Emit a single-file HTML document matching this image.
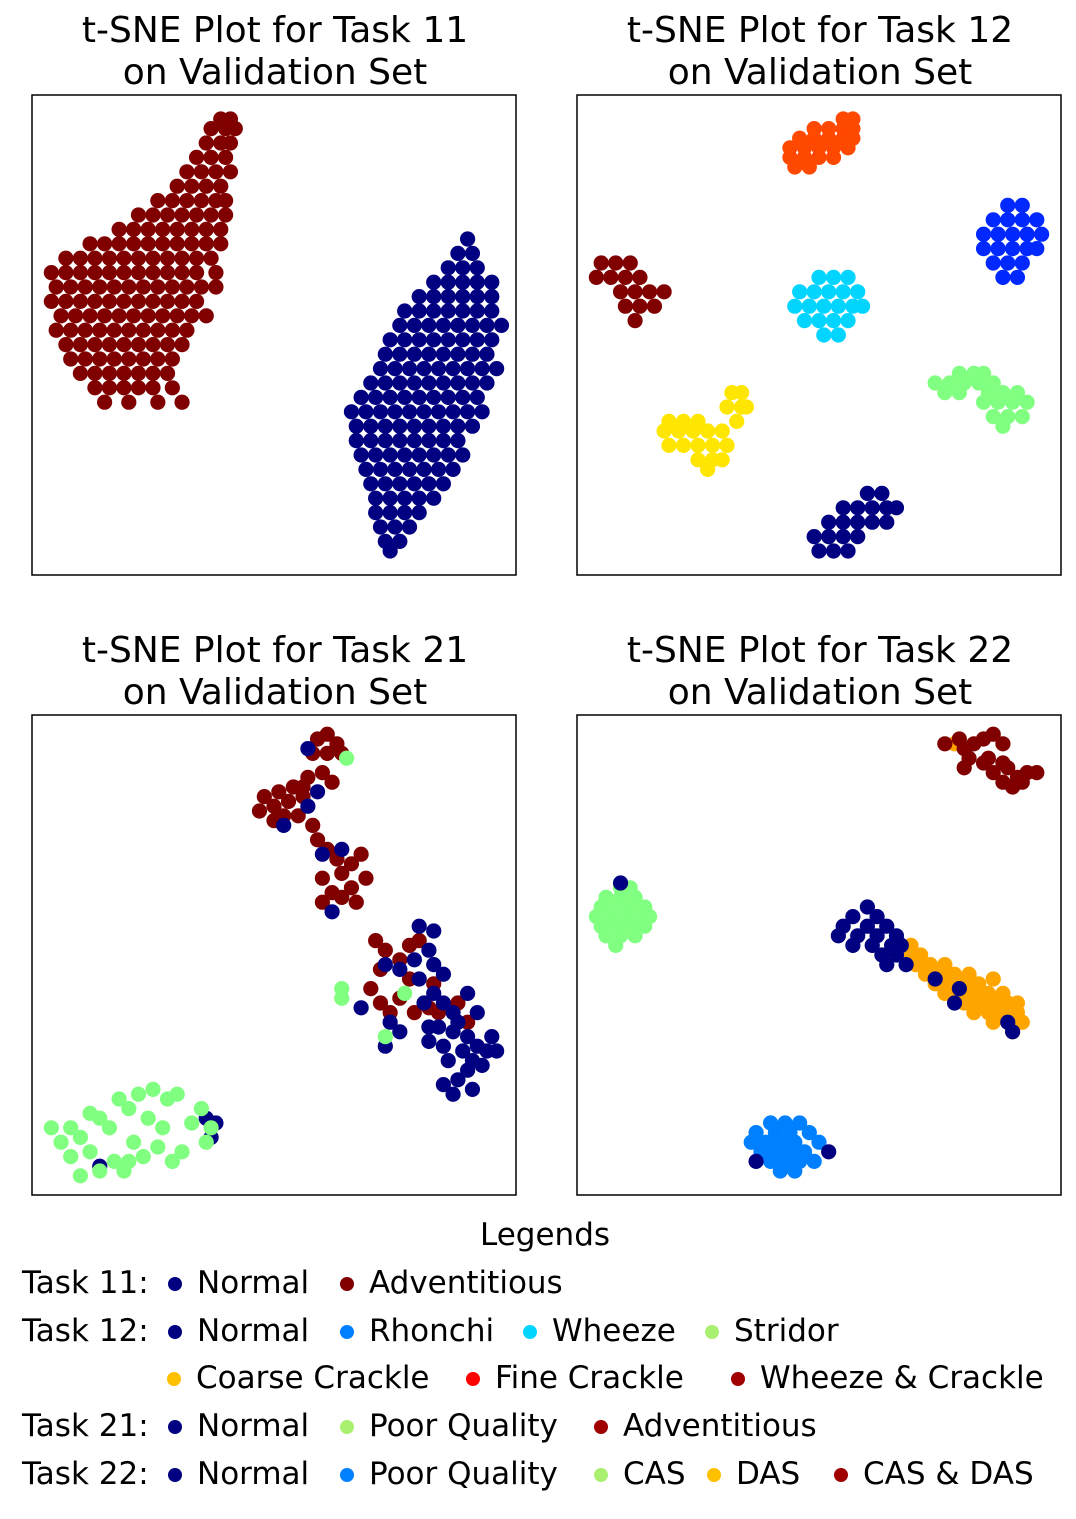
<!DOCTYPE html>
<html><head><meta charset="utf-8">
<style>
html,body{margin:0;padding:0;background:#fff;}
body{width:1076px;height:1519px;position:relative;overflow:hidden;font-family:"DejaVu Sans",sans-serif;}
svg{position:absolute;left:0;top:0;}
.lg{position:absolute;font-size:31px;color:#000;white-space:nowrap;line-height:1;font-family:"DejaVu Sans",sans-serif;}
.dot{position:absolute;width:14px;height:14px;border-radius:50%;}
</style></head>
<body>
<svg id="chart" width="1076" height="1519" viewBox="0 0 1076 1519"></svg>

<div class="lg" style="left:480px;top:1220px;">Legends</div>
<div id="legend"></div>

<script>
// ---- data (t-SNE coordinates on 0..100 scale) ----
// row format: [y, x1, x2, ...]
const t11Normal = [[30,90],[33,88,91],[36,86,89,92],[39,83,86,89,92,95],[42,80,83,86,89,92,95],[45,77,80,83,86,89,92,95],[48,76,79,82,85,88,91,94,97],[51,74,77,80,83,86,89,92,95],[54,73,76,79,82,85,88,91,94],[57,72,75,78,81,84,87,90,93,96],[60,70,73,76,79,82,85,88,91,94],[63,68,71,74,77,80,83,86,89,92],[66,66,69,72,75,78,81,84,87,90,93],[69,67,70,73,76,79,82,85,88,91],[72,67,70,73,76,79,82,85,88],[75,68,71,74,77,80,83,86,89],[78,69,72,75,78,81,84,87],[81,70,73,76,79,82,85],[84,71,74,77,80,83],[87,71,74,77,80],[90,72,75,78],[93,73,76],[95,74]];
const t11Adv = [[5,39,41],[7,37,40,42],[10,36,39,41],[13,34,37,40],[16,32,35,38,41],[19,30,33,36,39],[22,26,29,32,35,38,40],[25,22,25,28,31,34,37,40],[28,18,21,24,27,30,33,36,39],[31,12,15,18,21,24,27,30,33,36,39],[34,7,10,13,16,19,22,25,28,31,34,37],[37,4,7,10,13,16,19,22,25,28,31,34,38],[40,5,8,11,14,17,20,23,26,29,32,35,38],[43,4,7,10,13,16,19,22,25,28,31,34],[46,6,9,12,15,18,21,24,27,30,33,36],[49,5,8,11,14,17,20,23,26,29,32],[52,7,10,13,16,19,22,25,28,31],[55,8,11,14,17,20,23,26,29],[58,10,13,16,19,22,25,28],[61,13,16,19,22,25,29],[64,15,20,26,31]];

const t12Normal = [[83,60,63],[86,55,58,61,64,66],[89,52,55,58,61,64],[92,49,52,55,58],[95,50,53,56]];
const t12Rhonchi = [[23,89,92],[26,86,89,92,95],[29,84,87,90,93,96],[32,84,87,90,93,95],[35,86,89,92],[38,88,91]];
const t12Wheeze = [[38,50,53,56],[41,46,49,52,55,58],[44,45,48,51,54,57,59],[47,47,50,53,56],[50,51,54]];
const t12Stridor = [[58,79,82,84],[60,74,77,80,83,86],[62,76,79,85,88,91],[64,84,87,90,93],[67,86,89,92],[69,88]];
const t12Coarse = [[62,32,34],[65,31,34,35],[68,33,19,22,25],[70,18,21,24,27,30],[73,19,22,25,28,31],[76,25,28,30],[78,27]];
const t12Fine = [[5,55,57],[7,49,52,55,57],[9,46,49,52,55,57],[11,44,47,50,53,56],[13,44,47,50,53],[15,45,48]];
const t12WC = [[35,5,8,11],[38,4,7,10,13],[41,9,12,15,18],[44,10,13,16],[47,12]];

const t21Adv = [[4,61],[5,59],[6,63],[8,58,61,64],[12,60],[13,57],[14,62],[15,54,56],[16,51],[17,48,56],[18,53],[19,50],[20,47],[21,55,52],[22,50],[23,58],[26,59],[28,61],[29,68],[30,63],[31,66],[33,64],[34,60,69],[36,66],[37,62],[38,64],[39,60,67],[47,71,80],[48,78],[49,73],[51,76],[53,72],[55,78],[56,83],[57,70],[59,76],[60,72,88],[61,82],[62,74,79,84],[64,90]];
const t21Normal = [[7,57],[16,59],[19,57],[23,52],[28,64],[29,60],[41,62],[44,80],[45,83],[49,82],[51,79],[52,83,73],[53,76],[54,85],[55,80],[58,83,90],[60,81,85],[61,68],[62,87,92],[64,74,88],[65,84,82],[66,87,76],[67,90,95],[68,82],[69,92,73,85],[70,94,96,89],[72,86,91],[73,93],[74,90],[76,88],[77,85],[78,91],[79,87],[84,36],[85,38],[88,37],[94,14]];
const t21Poor = [[9,65],[57,64],[58,77],[59,64],[67,73],[78,25],[79,22,30],[80,18,28],[82,20,35],[83,12],[84,14,24],[85,33],[86,4,8,16,27,37],[88,10],[89,6,36,21],[90,26],[91,12,31],[92,8,23],[93,20,29],[93,17],[95,14,19],[96,10]];

const t22Normal = [[35,9],[40,60],[42,57,62],[44,55,60,64],[46,54,58,62,66],[48,57,61,65,67],[50,63,66],[52,64,68],[55,74],[57,79],[60,78],[64,89],[66,90],[91,52],[93,37]];
const t22Poor = [[85,40,43,46],[87,37,41,44,48],[89,36,39,42,45,50],[91,38,41,44,47],[93,40,43,46,49],[95,42,45]];
const t22CAS = [[36,9,11],[38,6,9,12],[40,5,8,11,14],[42,4,7,10,13,15],[44,5,8,11,14],[46,6,9,12],[48,8]];
const t22DAS = [[6,78],[48,66,69],[50,68,71],[52,70,73,76],[54,72,75,78,81],[55,86],[56,74,77,80,83],[58,76,79,82,85,88],[60,80,83,86,89,91],[62,82,85,88,91],[64,86,89,92],[66,90]];
const t22CD = [[4,86],[5,79,84],[6,76,82,88],[7,80],[9,81,85],[10,84,88],[11,80,89],[12,86,93,95],[13,91],[14,88,92],[15,90]];

// ---- layout ----
const panels = [
  {name:'task-11', x:32, y:95, title:'t-SNE Plot for Task 11', series:[
    {name:'adventitious',c:'#800000',d:t11Adv},{name:'normal',c:'#000080',d:t11Normal}]},
  {name:'task-12', x:577, y:95, title:'t-SNE Plot for Task 12', series:[
    {name:'normal',c:'#000080',d:t12Normal},{name:'rhonchi',c:'#0028ff',d:t12Rhonchi},{name:'wheeze',c:'#00d4ff',d:t12Wheeze},
    {name:'stridor',c:'#80ff80',d:t12Stridor},{name:'coarse-crackle',c:'#ffe600',d:t12Coarse},{name:'fine-crackle',c:'#ff4800',d:t12Fine},
    {name:'wheeze-crackle',c:'#800000',d:t12WC}]},
  {name:'task-21', x:32, y:715, title:'t-SNE Plot for Task 21', series:[
    {name:'adventitious',c:'#800000',d:t21Adv},{name:'normal',c:'#000080',d:t21Normal},{name:'poor-quality',c:'#80ff80',d:t21Poor}]},
  {name:'task-22', x:577, y:715, title:'t-SNE Plot for Task 22', series:[
    {name:'cas',c:'#80ff80',d:t22CAS},{name:'poor-quality',c:'#0080ff',d:t22Poor},{name:'das',c:'#ffa500',d:t22DAS},
    {name:'normal',c:'#000080',d:t22Normal},{name:'cas-das',c:'#800000',d:t22CD}]}
];
const W=484,H=480,R=7.6;
const svg=document.getElementById('chart');
const NS='http://www.w3.org/2000/svg';
function xs(p,v){return p.x+v/100*W;}
function ys(p,v){return p.y+v/100*H;}
panels.forEach(p=>{
  const g=document.createElementNS(NS,'g');
  
  
  svg.appendChild(g);
  [p.title,'on Validation Set'].forEach((t,i)=>{
    const tx=document.createElementNS(NS,'text');
    
    
    tx.setAttribute('x',p.x+W/2+1);tx.setAttribute('y',p.y-53+i*42);
    tx.setAttribute('text-anchor','middle');tx.setAttribute('font-size','36');
    tx.setAttribute('font-family','DejaVu Sans, sans-serif');
    tx.textContent=t;g.appendChild(tx);
  });
  p.series.forEach(s=>{
    const sg=document.createElementNS(NS,'g');
    
    
    g.appendChild(sg);
    s.d.forEach(row=>{
      for(let k=1;k<row.length;k++){
        const c=document.createElementNS(NS,'circle');
        
        
        c.setAttribute('cx',xs(p,row[k]));c.setAttribute('cy',ys(p,row[0]));
        c.setAttribute('r',R);c.setAttribute('fill',s.c);
        sg.appendChild(c);
      }
    });
  });
  const fr=document.createElementNS(NS,'rect');
  
  
  fr.setAttribute('x',p.x);fr.setAttribute('y',p.y);fr.setAttribute('width',W);fr.setAttribute('height',H);
  fr.setAttribute('fill','none');fr.setAttribute('stroke','#000');fr.setAttribute('stroke-width','1.5');
  g.appendChild(fr);
});

// ---- legend ----
const legendRows=[
  {y:1268,label:'Task 11:',items:[[175,'#000080','Normal'],[347,'#800000','Adventitious']]},
  {y:1316,label:'Task 12:',items:[[175,'#000080','Normal'],[347,'#0080ff','Rhonchi'],[530,'#00d4ff','Wheeze'],[712,'#aaf070','Stridor']]},
  {y:1363,label:'',items:[[174,'#ffc000','Coarse Crackle'],[473,'#ff0000','Fine Crackle'],[738,'#a00000','Wheeze & Crackle']]},
  {y:1411,label:'Task 21:',items:[[175,'#000080','Normal'],[347,'#aaf070','Poor Quality'],[601,'#a00000','Adventitious']]},
  {y:1459,label:'Task 22:',items:[[175,'#000080','Normal'],[347,'#0080ff','Poor Quality'],[601,'#aaf070','CAS'],[714,'#ffc000','DAS'],[841,'#a00000','CAS & DAS']]}
];
const lg=document.getElementById('legend');
legendRows.forEach(r=>{
  if(r.label){
    const l=document.createElement('div');
    l.className='lg';
    
    
    l.style.left='22px';l.style.top=r.y+'px';l.textContent=r.label;lg.appendChild(l);
  }
  r.items.forEach(it=>{
    const d=document.createElement('div');
    d.className='dot';
    
    
    d.style.left=(it[0]-7)+'px';d.style.top=(r.y+9)+'px';d.style.background=it[1];lg.appendChild(d);
    const t=document.createElement('div');
    t.className='lg';
    
    
    t.style.left=(it[0]+22)+'px';t.style.top=r.y+'px';t.textContent=it[2];lg.appendChild(t);
  });
});
</script>
</body></html>
